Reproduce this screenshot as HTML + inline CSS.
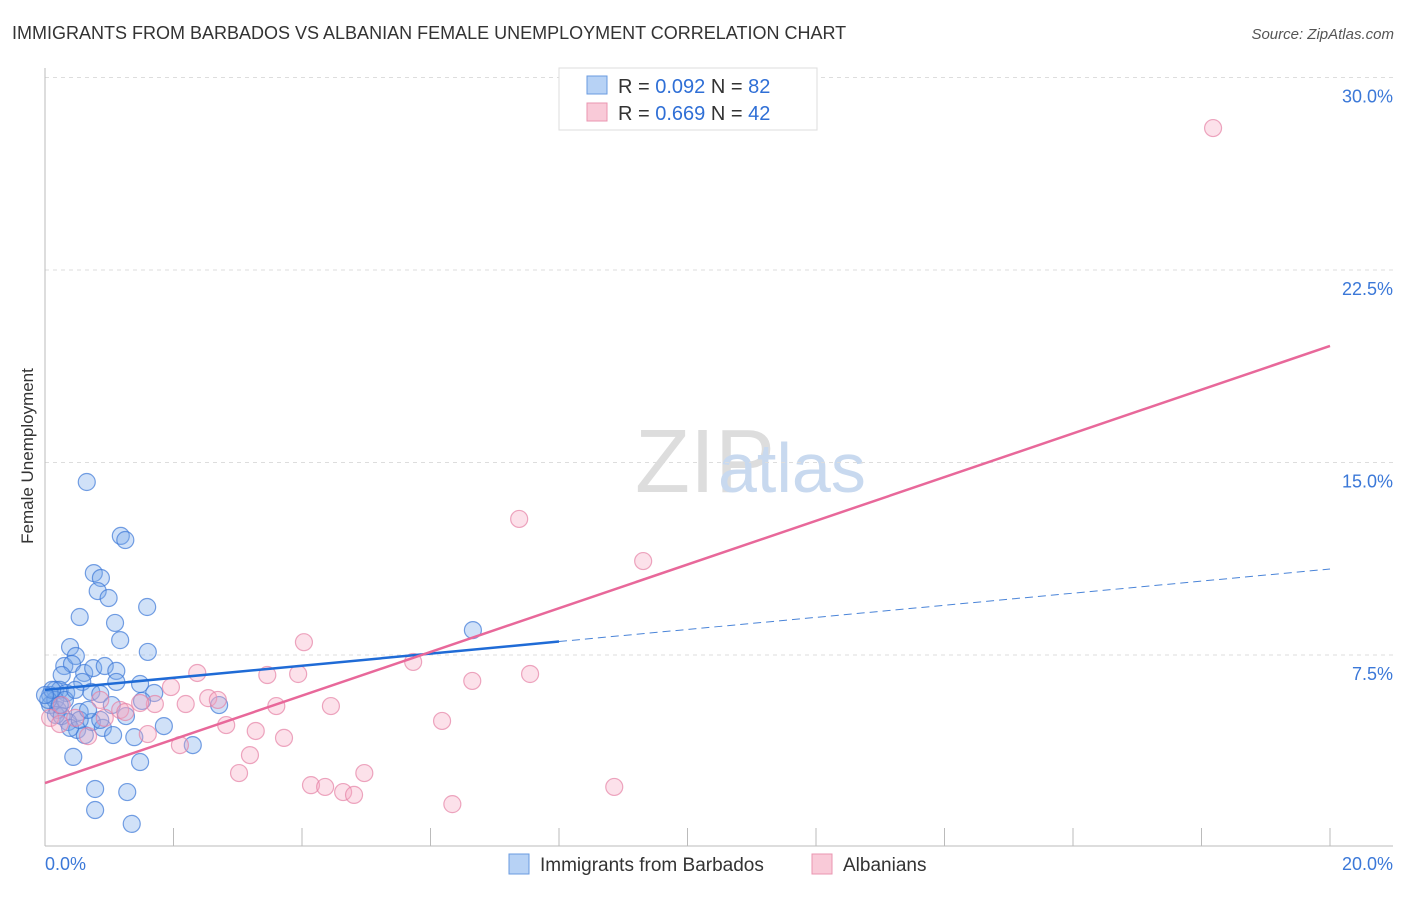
<!DOCTYPE html>
<html><head><meta charset="utf-8"><style>
body{margin:0;background:#fff;font-family:"Liberation Sans",sans-serif;}
svg text{font-family:"Liberation Sans",sans-serif;}
</style></head><body>
<svg id="chart" width="1406" height="892">
<text x="12" y="39" font-size="18" fill="#333">IMMIGRANTS FROM BARBADOS VS ALBANIAN FEMALE UNEMPLOYMENT CORRELATION CHART</text>
<text x="1394" y="39" font-size="15" fill="#555" font-style="italic" text-anchor="end">Source: ZipAtlas.com</text>
<text x="33" y="456" font-size="17" fill="#333" text-anchor="middle" transform="rotate(-90 33 456)">Female Unemployment</text>
<text x="635" y="492" font-size="90" fill="#ddd" font-family="Liberation Serif">ZIP</text>
<text x="718" y="492" font-size="70" fill="#c8d9ef">atlas</text>
<g id="grid"></g><g id="pts"></g><g id="lines"></g>
<g>
<rect x="559" y="68" width="258" height="62" fill="#fff" stroke="#ddd"/>
<rect x="587" y="76" width="20" height="18" fill="#b7d2f5" stroke="#6a9be0"/>
<rect x="587" y="103" width="20" height="18" fill="#f9cad8" stroke="#ea95b0"/>
<text x="618" y="93" font-size="20" fill="#333">R = <tspan fill="#2f6fd6">0.092</tspan>   N = <tspan fill="#2f6fd6">82</tspan></text>
<text x="618" y="120" font-size="20" fill="#333">R = <tspan fill="#2f6fd6">0.669</tspan>   N = <tspan fill="#2f6fd6">42</tspan></text>
</g>
<g>
<rect x="509" y="854" width="20" height="20" fill="#b7d2f5" stroke="#6a9be0"/>
<text x="540" y="871" font-size="19" fill="#333">Immigrants from Barbados</text>
<rect x="812" y="854" width="20" height="20" fill="#f9cad8" stroke="#ea95b0"/>
<text x="843" y="871" font-size="19" fill="#333">Albanians</text>
</g>
</svg>
<script>
const yTicks=[7.5,15,22.5,30];
const yTickLabels=["7.5%","15.0%","22.5%","30.0%"];
const xTickLabels=["0.0%","20.0%"];
const blueX=[0.65,1.18,1.25,0.76,0.87,0.82,0.99,0.54,1.09,1.59,1.17,1.60,0.39,0.30,0.48,0.42,0.61,0.75,0.93,1.11,1.11,0.26,0.58,0.72,0.86,1.48,1.70,1.51,0.16,0.23,0.08,0.33,0.08,0.16,0.20,0.54,0.36,0.50,0.62,0.73,0.90,1.06,1.26,1.39,1.85,2.30,0.44,1.48,0.78,1.28,0.78,1.35,6.66,2.71,1.04,0.17,0.31,0.05,0.26,0.39,0.54,0.86,0.67,0.11,0.47,0.0,0.23];
const blueY=[14.24,12.14,11.98,10.69,10.50,9.99,9.72,8.98,8.75,9.37,8.08,7.62,7.81,7.07,7.46,7.15,6.80,6.99,7.07,6.88,6.45,6.72,6.45,6.06,5.98,6.37,6.02,5.71,6.14,6.14,5.94,6.02,5.55,5.75,5.36,5.28,4.89,4.58,4.38,4.89,4.66,4.38,5.12,4.30,4.73,3.99,3.53,3.33,2.28,2.16,1.46,0.92,8.47,5.55,5.55,5.16,5.75,5.75,5.12,4.66,4.97,4.97,5.36,6.14,6.14,5.94,5.55];
const pinkX=[18.18,7.38,9.31,4.03,5.73,7.55,6.65,2.37,3.46,3.94,1.96,2.54,2.69,2.19,3.60,4.45,1.71,2.82,3.28,3.72,6.18,1.60,2.10,3.19,3.02,4.14,4.36,4.64,4.81,4.97,6.34,8.86,1.17,0.86,0.67,0.26,0.08,0.47,1.25,0.23,1.48,0.93];
const pinkY=[28.03,12.80,11.16,8.0,7.23,6.76,6.49,6.80,6.72,6.76,6.25,5.82,5.75,5.59,5.51,5.51,5.59,4.77,4.54,4.27,4.93,4.42,3.99,3.60,2.90,2.43,2.36,2.16,2.05,2.90,1.69,2.36,5.36,5.75,4.34,5.55,5.05,5.05,5.28,4.81,5.63,5.05];
const blueTrend=[6.14,10.85];
const pinkTrend=[2.51,19.54];
const blueSolidEnd=8.0;
const NS="http://www.w3.org/2000/svg";
const X=v=>45+v*64.25, Y=v=>847.5-v*25.667;
function mk(t,a,p){const e=document.createElementNS(NS,t);for(const k in a)e.setAttribute(k,a[k]);p.appendChild(e);return e;}
const g=document.getElementById('grid');
yTicks.forEach((t,i)=>{
 const l=mk('line',{x1:45,x2:1393,y1:Y(t),y2:Y(t),stroke:'#ddd','stroke-dasharray':'4,4'},g);
 
 
 const tx=mk('text',{x:1393,y:Y(t)+25,'font-size':18,fill:'#3b78d8','text-anchor':'end'},g);
 tx.textContent=yTickLabels[i];
 
 
});
mk('line',{x1:45,x2:45,y1:68,y2:846,stroke:'#bbb'},g);
mk('line',{x1:45,x2:1393,y1:846,y2:846,stroke:'#bbb'},g);
for(let i=0;i<=10;i++){const xx=X(i*2);mk('line',{x1:xx,x2:xx,y1:828,y2:846,stroke:'#bbb'},g);}
xTickLabels.forEach((s,i)=>{
 const tx=mk('text',{x:i?1393:45,y:870,'font-size':18,fill:'#3b78d8','text-anchor':i?'end':'start'},g);
 tx.textContent=s;
 
 
});
const p=document.getElementById('pts');
blueX.forEach((x,i)=>{
 const c=mk('circle',{cx:X(x),cy:Y(blueY[i]),r:8.5,fill:'rgba(120,170,235,0.35)',stroke:'rgba(60,120,215,0.7)','stroke-width':1.2},p);
 
 
});
pinkX.forEach((x,i)=>{
 const c=mk('circle',{cx:X(x),cy:Y(pinkY[i]),r:8.5,fill:'rgba(245,170,195,0.35)',stroke:'rgba(230,130,165,0.7)','stroke-width':1.2},p);
 
 
});
const L=document.getElementById('lines');
const by=x=>blueTrend[0]+(blueTrend[1]-blueTrend[0])*x/20;
const b1=mk('line',{x1:X(0),y1:Y(by(0)),x2:X(blueSolidEnd),y2:Y(by(blueSolidEnd)),stroke:'#1f6bd6','stroke-width':2.5},L);


const b2=mk('line',{x1:X(blueSolidEnd),y1:Y(by(blueSolidEnd)),x2:X(20),y2:Y(by(20)),stroke:'#4a84d8','stroke-width':1,'stroke-dasharray':'8,5'},L);


const pl=mk('line',{x1:X(0),y1:Y(pinkTrend[0]),x2:X(20),y2:Y(pinkTrend[1]),stroke:'#e8689a','stroke-width':2.5},L);


</script>
</body></html>
